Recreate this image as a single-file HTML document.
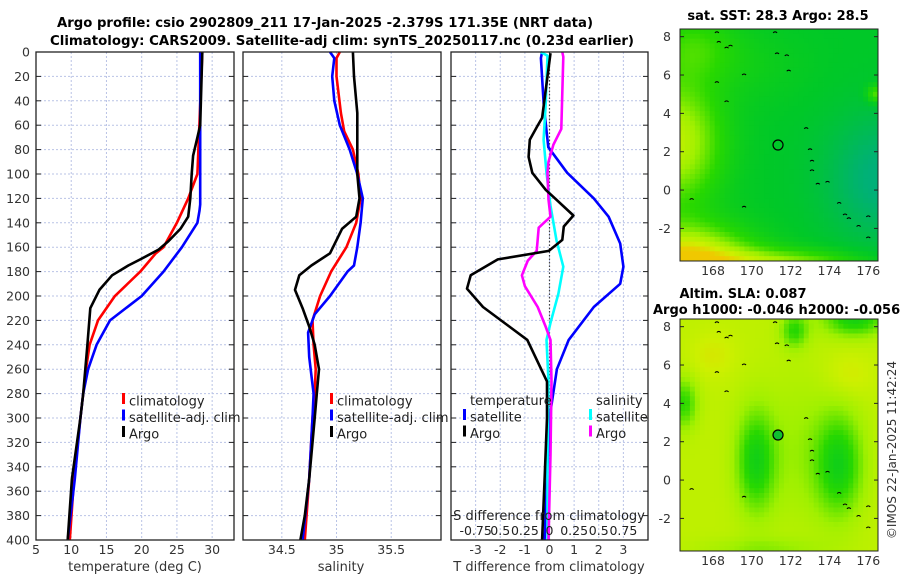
<!DOCTYPE html>
<html><head><meta charset="utf-8"><style>
html,body{margin:0;padding:0;background:#fff;}
svg{display:block;font-family:"DejaVu Sans","Liberation Sans",sans-serif;}
</style></head><body>
<svg id="fig" width="900" height="580" viewBox="0 0 900 580">
<text x="57" y="27" textLength="536" lengthAdjust="spacingAndGlyphs" font-size="13.5" font-weight="bold">Argo profile: csio 2902809_211 17-Jan-2025 -2.379S 171.35E (NRT data)</text>
<text x="50" y="45" textLength="584" lengthAdjust="spacingAndGlyphs" font-size="13.5" font-weight="bold">Climatology: CARS2009. Satellite-adj clim: synTS_20250117.nc (0.23d earlier)</text>
<g id="p1"></g>
<g id="p2"></g>
<g id="p3"></g>
<g id="m1"></g>
<g id="m2"></g>
<text x="778" y="20" text-anchor="middle" font-size="13" font-weight="bold">sat. SST: 28.3 Argo: 28.5</text>
<text x="743" y="298" text-anchor="middle" font-size="13" font-weight="bold">Altim. SLA: 0.087</text>
<text x="653" y="314" font-size="13" font-weight="bold">Argo h1000: -0.046 h2000: -0.056</text>
<text transform="translate(896,450) rotate(-90)" text-anchor="middle" font-size="12" fill="#333">©IMOS 22-Jan-2025 11:42:24</text>
</svg>
<script>
// ---- data ----
const depthTicks = [0,20,40,60,80,100,120,140,160,180,200,220,240,260,280,300,320,340,360,380,400];
const tTicks = [5,10,15,20,25,30];
const sTicks = [34.5,35,35.5];
const dTTicks = [-3,-2,-1,0,1,2,3];
const dSLabels = ["-0.75","0.5","0.25","0","0.25","0.5","0.75"];

const tClimDepth = [0,100,120,140,160,165,180,200,220,240,260,280,300,350,400];
const tClim = [28.6,27.9,26.6,25.0,23.1,22.0,19.8,16.2,13.8,12.6,12.1,11.7,11.3,10.4,9.8];
const tSatDepth = [0,125,130,140,160,180,200,220,240,260,280,300,350,400];
const tSat = [28.3,28.3,28.2,27.9,25.7,23.1,20.0,15.5,13.6,12.4,11.7,11.3,10.5,9.5];
const tArgoDepth = [0,60,70,85,100,120,135,145,155,162,170,175,183,195,210,240,280,300,350,400];
const tArgo = [28.6,28.3,27.9,27.3,27.1,26.9,26.6,25.5,23.8,22.4,19.8,18.1,15.8,14.0,12.7,12.3,11.7,11.3,10.1,9.5];

const sClimDepth = [0,5,20,50,65,80,100,120,140,160,180,200,220,240,260,280,300,350,400];
const sClim = [35.03,35.0,35.0,35.04,35.07,35.15,35.2,35.22,35.18,35.09,34.95,34.85,34.78,34.79,34.81,34.8,34.78,34.75,34.71];
const sSatDepth = [0,5,20,40,60,80,100,120,140,160,175,180,200,215,230,250,280,300,350,400];
const sSat = [34.94,34.98,34.96,34.98,35.03,35.12,35.19,35.24,35.22,35.19,35.16,35.1,34.94,34.8,34.74,34.75,34.79,34.78,34.75,34.69];
const sArgoDepth = [0,20,50,80,100,120,135,145,165,175,183,195,210,225,240,260,280,300,350,380,400];
const sArgo = [35.15,35.16,35.19,35.19,35.19,35.21,35.18,35.05,34.94,34.77,34.66,34.62,34.69,34.75,34.8,34.84,34.82,34.8,34.75,34.71,34.67];

const dTSatDepth = [0,5,44,78,99,120,135,157,176,190,209,236,260,300,350,400];
const dTSat = [-0.3,-0.35,-0.23,-0.05,0.72,1.8,2.4,2.87,3.0,2.87,1.8,0.78,0.3,0.0,-0.1,-0.2];
const dTArgoDepth = [1,54,61,72,86,99,113,119,134,143,154,163,170,183,194,209,236,270,300,350,400];
const dTArgo = [0.04,-0.3,-0.5,-0.8,-0.85,-0.7,-0.15,0.17,0.97,0.58,0.52,-0.03,-2.1,-3.2,-3.35,-2.7,-0.9,-0.1,-0.1,-0.2,-0.3];
const dSSatDepth = [0,3,44,72,99,126,154,176,198,222,236,270,330,400];
const dSSat = [-0.09,-0.02,-0.04,-0.06,-0.03,0.01,0.07,0.14,0.09,0.01,-0.03,-0.01,-0.02,-0.02];
const dSArgoDepth = [0,4,63,76,90,99,121,135,144,163,171,183,192,209,225,236,270,330,400];
const dSArgo = [0.13,0.14,0.12,0.04,-0.01,-0.02,-0.01,0.01,-0.11,-0.13,-0.22,-0.28,-0.25,-0.12,-0.04,0.01,0.02,0.01,-0.01];

// ---- drawing ----
const NS = "http://www.w3.org/2000/svg";
function mk(parent, tag, attrs){ const e=document.createElementNS(NS,tag); for(const k in attrs) e.setAttribute(k,attrs[k]); parent.appendChild(e); return e; }
const Y0=52, Y1=540;
const yD = d => Y0 + d/400*(Y1-Y0);

function panel(g, x0, x1, xmin, xmax, gridVals, name){
  const xs = v => x0 + (v-xmin)/(xmax-xmin)*(x1-x0);
  depthTicks.forEach(d=>{ if(d>0&&d<400){ const l=mk(g,'line',{x1:x0,x2:x1,y1:yD(d),y2:yD(d),stroke:'#b9c3e6','stroke-width':1,'stroke-dasharray':'2,2'});
      }});
  gridVals.forEach(v=>{ const l=mk(g,'line',{x1:xs(v),x2:xs(v),y1:Y0,y2:Y1,stroke:'#b9c3e6','stroke-width':1,'stroke-dasharray':'2,2'});
      });
  depthTicks.forEach(d=>{
    const a=mk(g,'line',{x1:x0,x2:x0+5,y1:yD(d),y2:yD(d),stroke:'#222'});
     
    const b=mk(g,'line',{x1:x1-5,x2:x1,y1:yD(d),y2:yD(d),stroke:'#222'});
     
  });
  return xs;
}
function frame(g,x0,x1){ const r=mk(g,'rect',{x:x0,y:Y0,width:x1-x0,height:Y1-Y0,fill:'none',stroke:'#222','stroke-width':1.3});
    }
function line(g, xs, ds, vs, color, name){
  const pts = vs.map((v,i)=>xs(v).toFixed(1)+','+yD(ds[i]).toFixed(1)).join(' ');
  const p=mk(g,'polyline',{points:pts,fill:'none',stroke:color,'stroke-width':2.6,'stroke-linejoin':'round'});
   
}
function txt(g,x,y,s,opts){ const t=mk(g,'text',Object.assign({x:x,y:y,'font-size':12.5,fill:'#333'},opts||{})); t.textContent=s; return t; }
function legend(g,x,y,items){ items.forEach((it,i)=>{
  const r=mk(g,'rect',{x:x,y:y+i*16.5-8,width:3,height:11,fill:it[1]});
   
  const t=txt(g,x+7,y+i*16.5+4.5,it[0],{'font-size':13,fill:'#222'});
   
});}

// panel 1
const p1=document.getElementById('p1');
const xT = panel(p1,36,234,5,33.1,tTicks,'t');
depthTicks.forEach(d=>{ const t=txt(p1,30,yD(d)+4.5,String(d),{'text-anchor':'end'});
    });
tTicks.forEach(v=>{ const t=txt(p1,xT(v),554,String(v),{'text-anchor':'middle'});
    });
line(p1,xT,tClimDepth,tClim,'#ff0000','temp-climatology-line');
line(p1,xT,tSatDepth,tSat,'#0000ff','temp-satellite-line');
line(p1,xT,tArgoDepth,tArgo,'#000000','temp-argo-line');
frame(p1,36,234);
legend(p1,122,401,[['climatology','#ff0000'],['satellite-adj. clim','#0000ff'],['Argo','#000']]);
{const t=txt(p1,135,571,'temperature (deg C)',{'text-anchor':'middle','font-size':13});
  }

// panel 2
const p2=document.getElementById('p2');
const xS = panel(p2,243,441,34.145,35.955,sTicks,'s');
sTicks.forEach(v=>{ const t=txt(p2,xS(v),554,String(v),{'text-anchor':'middle'});
    });
line(p2,xS,sClimDepth,sClim,'#ff0000','sal-climatology-line');
line(p2,xS,sSatDepth,sSat,'#0000ff','sal-satellite-line');
line(p2,xS,sArgoDepth,sArgo,'#000000','sal-argo-line');
frame(p2,243,441);
legend(p2,330,401,[['climatology','#ff0000'],['satellite-adj. clim','#0000ff'],['Argo','#000']]);
{const t=txt(p2,341,571,'salinity',{'text-anchor':'middle','font-size':13});
  }

// panel 3
const p3=document.getElementById('p3');
const xd = panel(p3,451,648,-4,4,dTTicks,'d');
const xds = v => xd(v*4);
mk(p3,'line',{x1:xd(0),x2:xd(0),y1:Y0,y2:Y1,stroke:'#444','stroke-width':1.2,'stroke-dasharray':'1.5,2'});
dTTicks.forEach(v=>{ const t=txt(p3,xd(v),554,String(v),{'text-anchor':'middle'});
    });
line(p3,xd,dTSatDepth,dTSat,'#0000ff','tdiff-satellite-line');
line(p3,xds,dSSatDepth,dSSat,'#00ffff','sdiff-satellite-line');
line(p3,xds,dSArgoDepth,dSArgo,'#ff00ff','sdiff-argo-line');
line(p3,xd,dTArgoDepth,dTArgo,'#000000','tdiff-argo-line');
frame(p3,451,648);
{const t=txt(p3,470,405,'temperature',{'font-size':13,fill:'#222'});  }
{const t=txt(p3,596,405,'salinity',{'font-size':13,fill:'#222'});  }
legend(p3,463,417,[['satellite','#0000ff'],['Argo','#000']]);
legend(p3,589,417,[['satellite','#00ffff'],['Argo','#ff00ff']]);
{const t=txt(p3,549,520,'S difference from climatology',{'text-anchor':'middle','font-size':13,fill:'#222'});  }
dSLabels.forEach((s,i)=>{ const v=(i-3)*0.25; const t=txt(p3,xds(v),535,s,{'text-anchor':'middle','font-size':12.5,fill:'#222'});
    });
{const t=txt(p3,549,571,'T difference from climatology',{'text-anchor':'middle','font-size':13});  }

// ---- maps ----
const lonTicks=[168,170,172,174,176], latTicks=[-2,0,2,4,6,8];
function mapAx(g,top,bot){
  const X0=680,X1=878, lon0=166.3, lon1=176.5, lat0=8.4, lat1=-3.7;
  const mx=l=>X0+(l-lon0)/(lon1-lon0)*(X1-X0), my=l=>top+(l-lat0)/(lat1-lat0)*(bot-top);
  return {mx,my,X0,X1};
}
function drawMap(g,top,bot,field,cmap,filled){
  const a=mapAx(g,top,bot);
  const nx=40, ny=48, cw=(a.X1-a.X0)/nx, ch=(bot-top)/ny;
  for(let j=0;j<ny;j++) for(let i=0;i<nx;i++){
    const lon=166.3+(i+0.5)/nx*10.2, lat=8.4-(j+0.5)/ny*12.1;
    mk(g,'rect',{x:(a.X0+i*cw).toFixed(2),y:(top+j*ch).toFixed(2),width:(cw+0.4).toFixed(2),height:(ch+0.4).toFixed(2),fill:cmap(field(lon,lat))});
  }
  const coast=[[168.2,8.2],[168.3,7.7],[168.7,7.4],[168.9,7.5],[169.6,6.0],[168.2,5.6],[168.7,4.6],[171.2,8.2],[171.3,7.1],[171.8,7.0],[171.9,6.2],[172.8,3.2],[173.0,2.1],[173.1,1.5],[173.1,1.0],[173.4,0.3],[173.9,0.4],[174.5,-0.7],[174.8,-1.3],[175.0,-1.5],[175.5,-1.9],[176.0,-1.4],[176.0,-2.5],[166.9,-0.5],[169.6,-0.9]];
  coast.forEach(c=>{ const e=mk(g,'path',{d:`M${a.mx(c[0])-2},${a.my(c[1])} q2,-2 4,0`,stroke:'#000','stroke-width':1,fill:'none'});
      });
  const c=mk(g,'circle',{cx:a.mx(171.35),cy:a.my(2.35),r:5,fill:filled||'none',stroke:'#000','stroke-width':1.2});
   
  const f=mk(g,'rect',{x:a.X0,y:top,width:a.X1-a.X0,height:bot-top,fill:'none',stroke:'#222'});
   
  latTicks.forEach(l=>{ const t=txt(g,671,a.my(l)+4.5,String(l),{'text-anchor':'end'});
     
    mk(g,'line',{x1:a.X0,x2:a.X0+4,y1:a.my(l),y2:a.my(l),stroke:'#222'});
    mk(g,'line',{x1:a.X1-4,x2:a.X1,y1:a.my(l),y2:a.my(l),stroke:'#222'}); });
  lonTicks.forEach(l=>{ const t=txt(g,a.mx(l),bot+14,String(l),{'text-anchor':'middle'});
      });
}
const G=(x,y,cx,cy,sx,sy)=>Math.exp(-(((x-cx)/sx)**2+((y-cy)/sy)**2));
function lerpCol(stops,v){ v=Math.max(0,Math.min(1,v)); for(let k=1;k<stops.length;k++){ if(v<=stops[k][0]){ const a=stops[k-1],b=stops[k],t=(v-a[0])/(b[0]-a[0]);
  const c=[0,1,2].map(n=>Math.round(a[1][n]+(b[1][n]-a[1][n])*t)); return `rgb(${c})`; } } const l=stops[stops.length-1][1]; return `rgb(${l})`; }
const stops=[[0,[0,176,120]],[0.3,[0,200,40]],[0.5,[40,216,0]],[0.7,[160,240,0]],[0.85,[205,240,0]],[1,[240,200,0]]];
const sst=(x,y)=>{
  let v=0.3+0.5*G(x,y,166.0,2.5,2.4,3.2)+0.75*G(x,y,166.4,-3.9,3.4,1.9)+0.38*G(x,y,171.5,-3.9,4.5,0.8)+0.2*G(x,y,167,7.5,2.2,1.8)+0.06*G(x,y,170,6.5,3,2)-0.32*G(x,y,176.7,0.6,2.8,3.2)+0.3*G(x,y,176.4,5,0.5,0.5);
  return v; };
const sla=(x,y)=>0.8-0.38*G(x,y,170.2,1.0,1.0,2.6)-0.38*G(x,y,174.5,0.8,1.2,2.6)-0.3*G(x,y,166.5,4,0.7,1.3)-0.38*G(x,y,175.3,8.4,1.6,0.9)-0.3*G(x,y,172.2,7.8,0.7,0.9)-0.1*G(x,y,172.5,1.5,2,4)+0.08*G(x,y,168,6.5,1.2,1.2)+0.08*G(x,y,175,5.5,1.3,1.2)-0.12*G(x,y,170.5,-3.6,3,0.6);
drawMap(document.getElementById('m1'),29,261,sst,v=>lerpCol(stops,v));
drawMap(document.getElementById('m2'),319,551,sla,v=>lerpCol(stops,v),'#10c030');
</script>
</body></html>
